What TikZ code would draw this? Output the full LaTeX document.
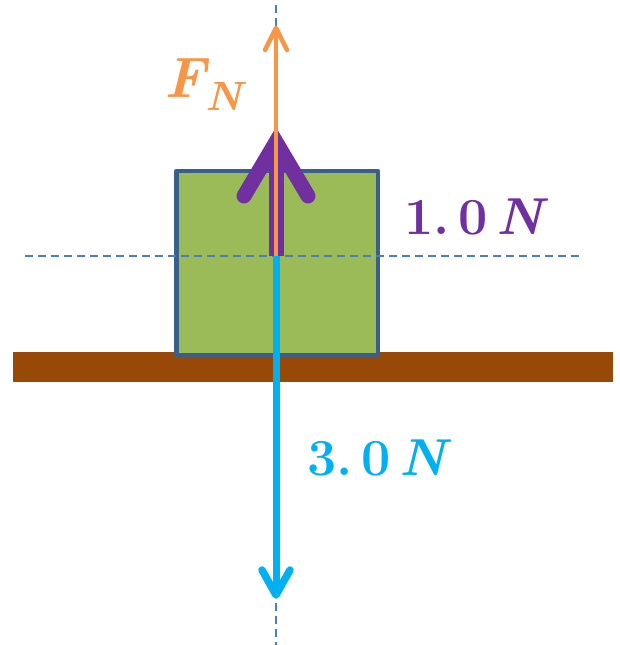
\documentclass[tikz,border=0pt]{standalone}
\definecolor{ground}{HTML}{984807}
\definecolor{boxfill}{HTML}{9BBB59}
\definecolor{boxline}{HTML}{3A5F8B}
\definecolor{dashc}{HTML}{4A7EBB}
\definecolor{purp}{HTML}{7030A0}
\definecolor{orng}{HTML}{F79646}
\definecolor{cyanf}{HTML}{00B0F0}
\tikzset{
  axis/.style={dashc,line width=2.7pt,dash pattern=on 8pt off 5pt},
  lbl/.style={anchor=base west,inner sep=0pt,font=\fontsize{52}{56}\selectfont\bfseries},
}
\begin{document}
\begin{tikzpicture}[x=1pt,y=-1pt]
\useasboundingbox (0,0) rectangle (619,645);
% ground
\fill[ground] (13,352) rectangle (613,382);
% block
\draw[boxline,fill=boxfill,line width=4.5pt,line join=round] (176.5,171) rectangle (378,355);
% axes
\draw[axis] (276,5) -- (276,645);
\draw[axis] (25,256) -- (582,256);
\coordinate (O) at (276,256);
% purple 1.0 N force
\coordinate (Ptip) at (276,142);
\draw[purp,line width=15pt] (O) -- (276,152);
\draw[purp,line width=15pt,line cap=round,line join=miter] (244,196) -- (Ptip) -- (308,196);
% orange normal force
\coordinate (Ntip) at (276,28);
\draw[orng,line width=4pt] (O) -- (276,30);
\draw[orng,line width=4.5pt,line cap=round,line join=round] (265,50) -- (Ntip) -- (287,50);
% cyan weight
\coordinate (Wtip) at (276,595);
\draw[cyanf,line width=7pt] (O) -- (276,590);
\draw[cyanf,line width=7.5pt,line cap=round,line join=round] (262,570) -- (Wtip) -- (290,570);
% labels
\node[lbl,text=orng] (fn) at (164,97) {\fontsize{57}{60}\selectfont\itshape F\raisebox{-13pt}{\fontsize{41}{44}\selectfont N}};
\node[lbl,text=purp] (one) at (404,234) {1.\,0\,\itshape N};
\node[lbl,text=cyanf] (three) at (307,475) {3.\,0\,\itshape N};
\end{tikzpicture}
\end{document}
